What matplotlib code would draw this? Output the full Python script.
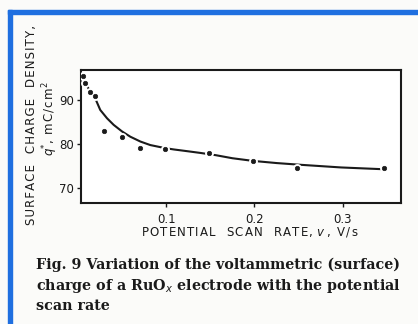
import matplotlib
matplotlib.use("Agg")
import matplotlib.pyplot as plt
from matplotlib.patches import Rectangle

# data
scan_rate = [0.006, 0.0085, 0.014, 0.0196, 0.030, 0.050, 0.070, 0.099, 0.149, 0.198, 0.248, 0.347]
charge = [95.5, 93.9, 91.8, 90.8, 83.0, 81.5, 79.0, 78.9, 77.8, 76.1, 74.4, 74.4]

curve_rate = [0.006, 0.0085, 0.014, 0.0197, 0.0253, 0.033, 0.0405, 0.050, 0.0594, 0.0708,
              0.082, 0.0916, 0.099, 0.1086, 0.124, 0.139, 0.149, 0.156, 0.175, 0.198,
              0.225, 0.2526, 0.298, 0.345]
curve_charge = [95.5, 93.9, 91.8, 90.3, 87.7, 85.8, 84.3, 82.8, 81.6, 80.5,
                79.7, 79.3, 79.0, 78.7, 78.3, 77.9, 77.6, 77.4, 76.7, 76.1,
                75.6, 75.2, 74.6, 74.2]

xticks = [0.1, 0.2, 0.3]
xticklabels = ["0.1", "0.2", "0.3"]
yticks = [70, 80, 90]
yticklabels = ["70", "80", "90"]

W, H = 418, 324
fig = plt.figure(figsize=(W / 100, H / 100), dpi=100)
fig.patch.set_facecolor("#fbfbf9")

# blue frame lines
blue = "#1f6fe0"
fig.patches.append(Rectangle((8 / W, 0), 4 / W, 1 - 10 / H, transform=fig.transFigure,
                             color=blue, zorder=0))
fig.patches.append(Rectangle((8 / W, 1 - 14 / H), 1 - 8 / W, 4 / H, transform=fig.transFigure,
                             color=blue, zorder=0))


def spaced(s):
    return "\u200a".join(s)


ax = fig.add_axes([81 / W, 1 - 203 / H, 320 / W, 133 / H])
ax.set_facecolor("white")
ink = "#1a1a1a"
ax.plot(curve_rate, curve_charge, color=ink, lw=1.5, solid_capstyle="butt", zorder=2)
ax.plot(scan_rate, charge, "o", color=ink, ms=3.2, mec="white", mew=3.2, zorder=3)
ax.plot(scan_rate, charge, "o", color=ink, ms=3.2, mec=ink, mew=0.5, zorder=4)

ax.set_xlim(0.0035, 0.366)
ax.set_ylim(66.5, 96.8)
ax.set_xticks(xticks)
ax.set_xticklabels(xticklabels)
ax.set_yticks(yticks)
ax.set_yticklabels(yticklabels)
for s in ax.spines.values():
    s.set_linewidth(1.5)
    s.set_color(ink)
ax.tick_params(direction="out", length=3, width=1.0, colors=ink, labelsize=8.5, pad=2)
ax.tick_params(axis="x", pad=4)

fig.text(250 / W, 1 - 232 / H, spaced("POTENTIAL  SCAN  RATE,") + " $v$ " + spaced(", V/s"),
         fontsize=8.5, color=ink, ha="center", va="center")

fig.text(32 / W, 1 - 125 / H, spaced("SURFACE  CHARGE  DENSITY,"), rotation=90, fontsize=8.5,
         color=ink, ha="center", va="center")
fig.text(50 / W, 1 - 119 / H, "$q$$^{*}$" + spaced(", mC/cm") + "$^{2}$", rotation=90,
         fontsize=8.5, color=ink, ha="center", va="center")

cap_lines = ["Fig. 9 Variation of the voltammetric (surface)",
             "charge of a RuO$_x$ electrode with the potential",
             "scan rate"]
baselines = [269, 290, 310]
for line, b in zip(cap_lines, baselines):
    fig.text(36 / W, 1 - b / H, line, fontsize=10.3, fontweight="bold",
             family="DejaVu Serif", color=ink, ha="left", va="baseline")

fig.savefig("out.png", dpi=100, facecolor=fig.get_facecolor())
